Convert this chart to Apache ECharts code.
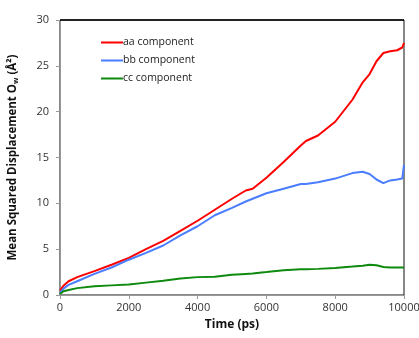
<!DOCTYPE html>
<html><head><meta charset="utf-8">
<script src="https://cdn.jsdelivr.net/npm/echarts@6/dist/echarts.min.js"></script>
<style>html,body{margin:0;padding:0;background:#fff}#c{width:419px;height:338px}</style>
</head><body><div id="c"></div>
<script>
const time = [0,100,250,500,1000,1500,2000,2500,3000,3500,4000,4500,5000,5400,5600,6000,6500,7000,7150,7500,8000,8500,8800,9000,9200,9400,9600,9800,9950,10000];
const aa = [0.5,1.0,1.5,1.95,2.6,3.3,4.05,5.0,5.9,7.0,8.1,9.3,10.5,11.4,11.6,12.8,14.5,16.3,16.8,17.4,18.9,21.3,23.2,24.1,25.5,26.4,26.6,26.7,27.0,27.5];
const bb = [0.2,0.7,1.1,1.5,2.3,3.0,3.85,4.6,5.4,6.5,7.5,8.7,9.5,10.2,10.5,11.1,11.6,12.1,12.1,12.3,12.7,13.3,13.45,13.2,12.6,12.2,12.5,12.6,12.7,14.2];
const cc = [0.1,0.4,0.55,0.75,0.95,1.05,1.15,1.35,1.55,1.8,1.95,2.0,2.2,2.3,2.35,2.5,2.7,2.8,2.8,2.85,2.95,3.1,3.2,3.3,3.25,3.05,3.0,3.0,3.0,3.0];
const names = ['aa component','bb component','cc component'];
const xTicks = [0,2000,4000,6000,8000,10000];
const yTicks = [0,5,10,15,20,25,30];

const pairs = v => time.map((t,i)=>[t,v[i]]);
const FONT = 'Open Sans';
const yMax = yTicks[yTicks.length-1];
const chart = echarts.init(document.getElementById('c'));
chart.setOption({
  animation:false,
  textStyle:{fontFamily:FONT},
  grid:{left:60,right:15,top:20,bottom:43,outerBoundsMode:'none',containLabel:false,
        show:true,borderColor:'#111',borderWidth:1,backgroundColor:'transparent'},
  legend:{
    left:100, top:37, orient:'vertical', itemGap:7, itemWidth:22, itemHeight:2, padding:0,
    textStyle:{fontFamily:FONT,fontSize:10.5,color:'#222',padding:[0,0,0,-5]},
    data:names
  },
  xAxis:{
    type:'value', min:xTicks[0], max:xTicks[xTicks.length-1], interval:2000,
    name:'Time (ps)', nameLocation:'middle', nameGap:24,
    nameTextStyle:{fontFamily:FONT,fontWeight:'bold',fontSize:12,color:'#111'},
    axisLine:{lineStyle:{color:'#999',width:1}},
    axisTick:{show:true,length:4,lineStyle:{color:'#999'}},
    axisLabel:{fontFamily:FONT,fontSize:11,color:'#333',margin:7,formatter:v=>String(v)},
    splitLine:{show:false}
  },
  yAxis:{
    type:'value', min:yTicks[0], max:yMax, interval:5,
    name:'{a|Mean Squared Displacement O}{s|w}{a| (Å²)}', nameLocation:'middle', nameGap:40,
    nameTextStyle:{fontFamily:FONT,fontWeight:'bold',fontSize:11.5,color:'#111',
      rich:{a:{fontFamily:FONT,fontWeight:'bold',fontSize:11.5,color:'#111'},
            s:{fontFamily:FONT,fontWeight:'bold',fontSize:7.5,color:'#111',verticalAlign:'bottom',padding:[6,0,0,0]}}},
    axisLine:{show:true,lineStyle:{color:'#999',width:1}},
    axisTick:{show:true,length:4,lineStyle:{color:'#999'}},
    axisLabel:{fontFamily:FONT,fontSize:11,color:'#333',margin:11},
    splitLine:{show:false}
  },
  series:[
    {name:names[0],type:'line',data:pairs(aa),symbol:'none',lineStyle:{color:'#ff0000',width:2},itemStyle:{color:'#ff0000'},
     markLine:{silent:true,symbol:['none','none'],label:{show:false},
               lineStyle:{color:'#000',width:1.5,type:'solid'},emphasis:{disabled:true},
               data:[{yAxis:yMax}]}},
    {name:names[1],type:'line',data:pairs(bb),symbol:'none',lineStyle:{color:'#4a7dff',width:2},itemStyle:{color:'#4a7dff'}},
    {name:names[2],type:'line',data:pairs(cc),symbol:'none',lineStyle:{color:'#0e8a0e',width:2},itemStyle:{color:'#0e8a0e'}}
  ]
});
</script></body></html>
